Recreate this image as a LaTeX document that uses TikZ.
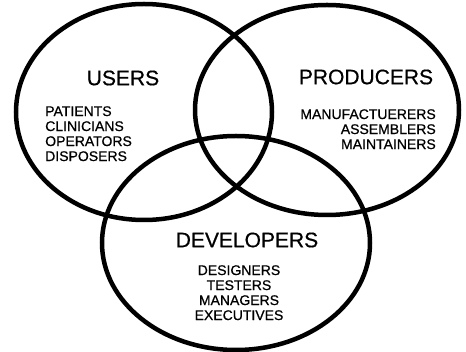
\documentclass[tikz,border=0pt]{standalone}
\usepackage{fontspec}
\setmainfont{Liberation Sans}
\newfontfamily\heavy[FakeBold=0.6]{Liberation Sans}
\usetikzlibrary{positioning}
\definecolor{fg}{RGB}{0,0,0}
\definecolor{bg}{RGB}{255,255,255}
\tikzset{
  every picture/.style={fg, line width=4.5pt},
  % Linientypen
  ring/.style={fg, line width=4.5pt},
  % Beschriftung
  group/.style={font=\heavy\fontsize{21}{24}\selectfont, inner sep=0pt},
  members/.style={font=\heavy\fontsize{14}{15}\selectfont, inner sep=0pt},
}

\begin{document}
\begin{tikzpicture}[x=1pt, y=-1pt]
  \useasboundingbox[fill=bg] (0,0) rectangle (466,352);
  % die drei Mengen
  \draw[ring] (144,112) ellipse [x radius=128pt, y radius=108pt];
  \draw[ring] (327,110) ellipse [x radius=132pt, y radius=105pt];
  \draw[ring] (236,243) ellipse [x radius=134pt, y radius=107pt];
  % links
  \node[group] (users) at (123,78) {USERS};
  \node[members, align=left, anchor=north west] (userlist) at (43,104)
    {PATIENTS\\CLINICIANS\\OPERATORS\\DISPOSERS};
  % rechts
  \node[group] (producers) at (366,77) {PRODUCERS};
  \node[members, align=right, anchor=north east] (producerlist) at (438,107)
    {MANUFACTUERERS\\ASSEMBLERS\\MAINTAINERS};
  % unten
  \node[group] (developers) at (247,240) {DEVELOPERS};
  \node[members, align=center, anchor=north] (developerlist) at (239,263)
    {DESIGNERS\\TESTERS\\MANAGERS\\EXECUTIVES};
\end{tikzpicture}
\end{document}
